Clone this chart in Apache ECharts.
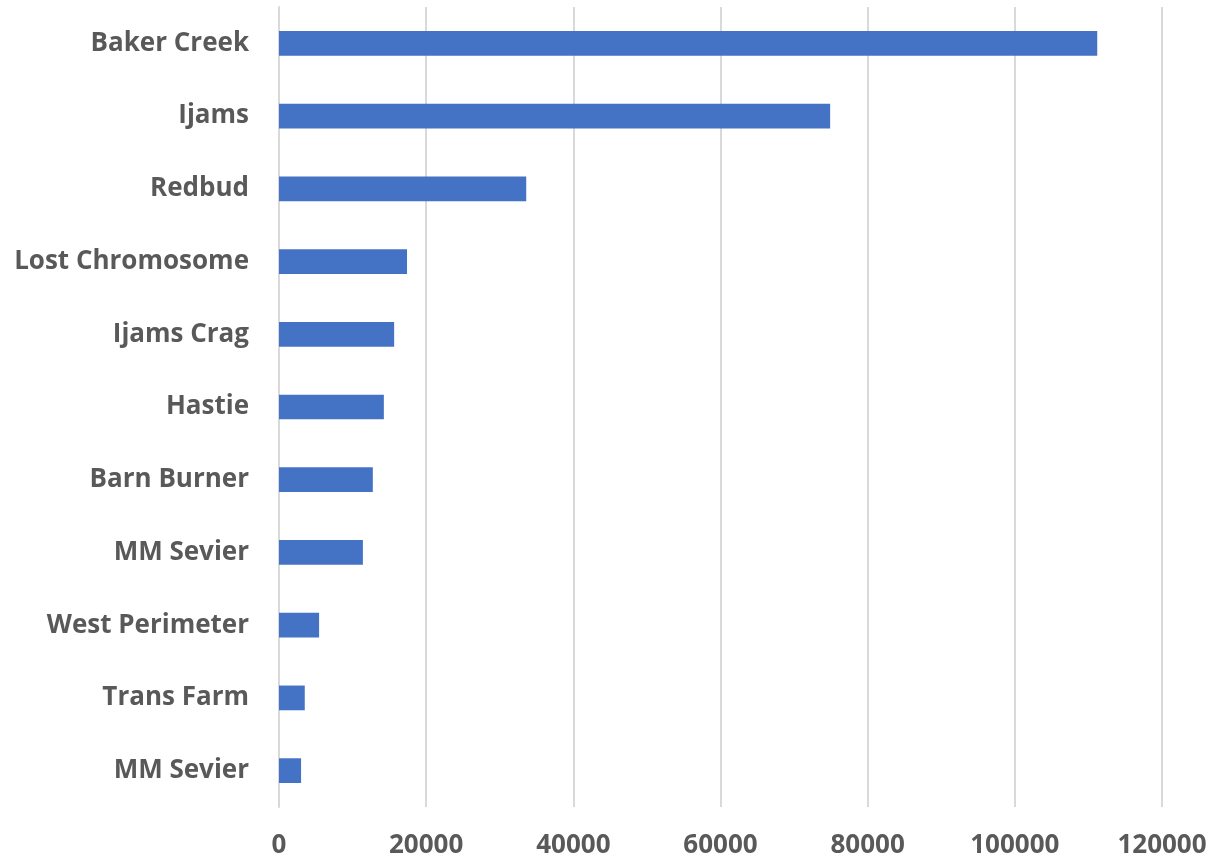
<!DOCTYPE html>
<html>
<head>
<meta charset="utf-8">
<script src="https://cdn.jsdelivr.net/npm/echarts@6/dist/echarts.min.js"></script>
<style>
  html, body { margin: 0; padding: 0; background: #fff; }
  #chart { width: 1217px; height: 864px; }
</style>
</head>
<body>
<div id="chart"></div>
<script>
// Categories listed bottom to top (category axis draws first item at the bottom)
const categories = [
  'MM Sevier', 'Trans Farm', 'West Perimeter', 'MM Sevier', 'Barn Burner',
  'Hastie', 'Ijams Crag', 'Lost Chromosome', 'Redbud', 'Ijams', 'Baker Creek'
];
const values = [3000, 3500, 5450, 11400, 12750, 14250, 15650, 17400, 33600, 74900, 111200];
const xTicks = { min: 0, max: 120000, interval: 20000 };

const chart = echarts.init(document.getElementById('chart'));
const labelFont = { color: '#595959', fontSize: 26, fontWeight: 'bold', fontFamily: 'Open Sans' };

chart.setOption({
  animation: false,
  grid: { left: 279, right: 55, top: 7, bottom: 57, containLabel: false },
  xAxis: {
    type: 'value',
    min: xTicks.min, max: xTicks.max, interval: xTicks.interval,
    axisLine: { show: false },
    axisTick: { show: false },
    splitLine: { show: true, lineStyle: { color: '#d9d9d9', width: 2 } },
    axisLabel: Object.assign({ margin: 26, formatter: v => String(v) }, labelFont)
  },
  yAxis: {
    type: 'category',
    data: categories,
    axisLine: { show: true, lineStyle: { color: '#d9d9d9', width: 2 } },
    axisTick: { show: false },
    axisLabel: Object.assign({ margin: 30, padding: [4, 0, 0, 0] }, labelFont)
  },
  series: [{
    type: 'bar',
    data: values,
    barWidth: '34%',
    itemStyle: { color: '#4472c4' }
  }]
});
</script>
</body>
</html>
